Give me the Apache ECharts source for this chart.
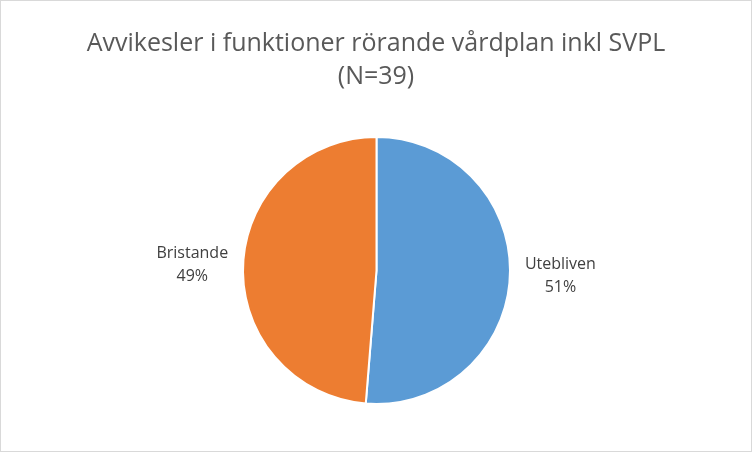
<!DOCTYPE html>
<html lang="sv">
  <head>
    <meta charset="UTF-8" />
    <title>Avvikesler</title>
    <script src="https://cdn.jsdelivr.net/npm/echarts@6/dist/echarts.min.js"></script>
    <style>
      html, body { margin: 0; padding: 0; background: #fff; }
      #chart {
        width: 752px;
        height: 452px;
        box-sizing: border-box;
        border: 1px solid #d9d9d9;
      }
    </style>
  </head>
  <body>
    <div id="chart"></div>
    <script>
      const titleLines = ['Avvikesler i funktioner rörande vårdplan inkl SVPL', '(N=39)'];
      const categories = ['Utebliven', 'Bristande'];
      const counts = [20, 19];
      const colors = ['#5B9BD5', '#ED7D31'];

      const chart = echarts.init(document.getElementById('chart'));

      chart.setOption({
        animation: false,
        title: {
          text: titleLines.join('\n'),
          left: 'center',
          top: 21,
          textStyle: {
            fontFamily: 'Open Sans',
            fontSize: 25,
            fontWeight: 'normal',
            color: '#595959',
            lineHeight: 33
          }
        },
        series: [
          {
            type: 'pie',
            center: [375.5, 269.5],
            radius: 133.5,
            startAngle: 90,
            clockwise: true,
            percentPrecision: 0,
            itemStyle: { borderColor: '#fff', borderWidth: 2 },
            label: {
              position: 'outside',
              formatter: '{a|{b}}\n{a|{d}%}',
              rich: {
                a: {
                  align: 'center',
                  fontFamily: 'Open Sans',
                  fontSize: 16,
                  color: '#404040',
                  lineHeight: 23
                }
              }
            },
            labelLine: { show: false, length: 10, length2: 0 },
            data: categories.map((name, i) => ({
              name,
              value: counts[i],
              itemStyle: { color: colors[i] }
            }))
          }
        ]
      });
    </script>
  </body>
</html>
